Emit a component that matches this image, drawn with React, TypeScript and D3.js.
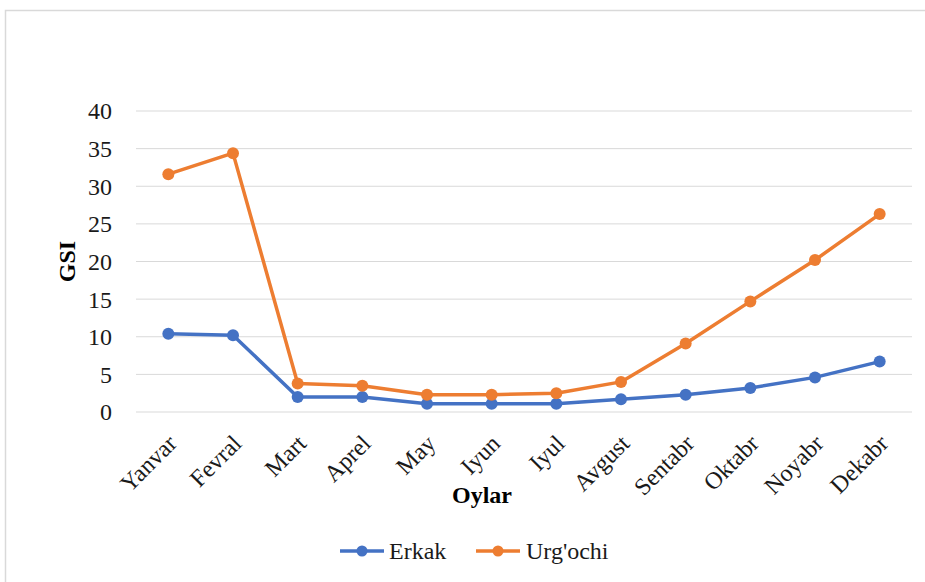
import React from 'react';
import * as d3 from 'd3';

// Monthly GSI values
const months = ['Yanvar', 'Fevral', 'Mart', 'Aprel', 'May', 'Iyun', 'Iyul', 'Avgust', 'Sentabr', 'Oktabr', 'Noyabr', 'Dekabr'];
const erkak = [10.4, 10.2, 2.0, 2.0, 1.1, 1.1, 1.1, 1.7, 2.3, 3.2, 4.6, 6.7];
const urgochi = [31.6, 34.4, 3.8, 3.5, 2.3, 2.3, 2.5, 4.0, 9.1, 14.7, 20.2, 26.3];
const yTicks = [0, 5, 10, 15, 20, 25, 30, 35, 40];

const seriesList = [
  { name: 'Erkak', values: erkak, color: '#4472C4' },
  { name: "Urg'ochi", values: urgochi, color: '#ED7D31' },
];

const W = 925;
const H = 582;
const margin = { top: 111, right: 13, bottom: 170, left: 136 };
const font = '"Liberation Serif", "Times New Roman", serif';
const fs = 24;

export default function App() {
  const x = d3.scaleBand<string>().domain(months).range([margin.left, W - margin.right]);
  const y = d3.scaleLinear().domain([0, 40]).range([H - margin.bottom, margin.top]);
  const cx = (m: string) => (x(m) ?? 0) + x.bandwidth() / 2;

  const line = d3.line<number>()
    .x((_, i) => cx(months[i]))
    .y(d => y(d));

  const legendY = 551;
  const legendItems = [
    { x0: 340, textX: 389 },
    { x0: 476, textX: 526 },
  ];

  return (
    <svg width={W} height={H} style={{ position: 'absolute', left: 0, top: 0, background: '#fff' }} fontFamily={font}>
      <rect x={5.5} y={10.5} width={W} height={H} fill="#fff" stroke="#d9d9d9" strokeWidth={1.5} />

      {/* grid + y ticks */}
      {yTicks.map(t => (
        <g key={t}>
          <line x1={margin.left} x2={W - margin.right} y1={y(t)} y2={y(t)} stroke="#d9d9d9" strokeWidth={1} />
          <text x={112} y={y(t)} dy="0.35em" textAnchor="end" fontSize={fs} fill="#1a1a1a">{t}</text>
        </g>
      ))}

      {/* x tick labels */}
      {months.map(m => (
        <text key={m} transform={`translate(${cx(m) + 4},${y(0) + 27}) rotate(-45)`} textAnchor="end" dy="0.35em" fontSize={fs} fill="#1a1a1a">{m}</text>
      ))}

      {/* axis titles */}
      <text x={482} y={503} textAnchor="middle" fontSize={24} fontWeight="bold" fill="#000">Oylar</text>
      <text transform={`translate(75,${(y(0) + y(40)) / 2}) rotate(-90)`} textAnchor="middle" fontSize={24} fontWeight="bold" fill="#000">GSI</text>

      {/* series */}
      {seriesList.map(s => (
        <g key={s.name}>
          <path d={line(s.values) ?? ''} fill="none" stroke={s.color} strokeWidth={3.5} strokeLinejoin="round" />
          {s.values.map((v, i) => (
            <circle key={i} cx={cx(months[i])} cy={y(v)} r={6} fill={s.color} />
          ))}
        </g>
      ))}

      {/* legend */}
      {seriesList.map((s, i) => (
        <g key={s.name}>
          <line x1={legendItems[i].x0} x2={legendItems[i].x0 + 44} y1={legendY} y2={legendY} stroke={s.color} strokeWidth={3.5} />
          <circle cx={legendItems[i].x0 + 22} cy={legendY} r={5.5} fill={s.color} />
          <text x={legendItems[i].textX} y={legendY} dy="0.35em" fontSize={fs} fill="#1a1a1a">{s.name}</text>
        </g>
      ))}
    </svg>
  );
}
